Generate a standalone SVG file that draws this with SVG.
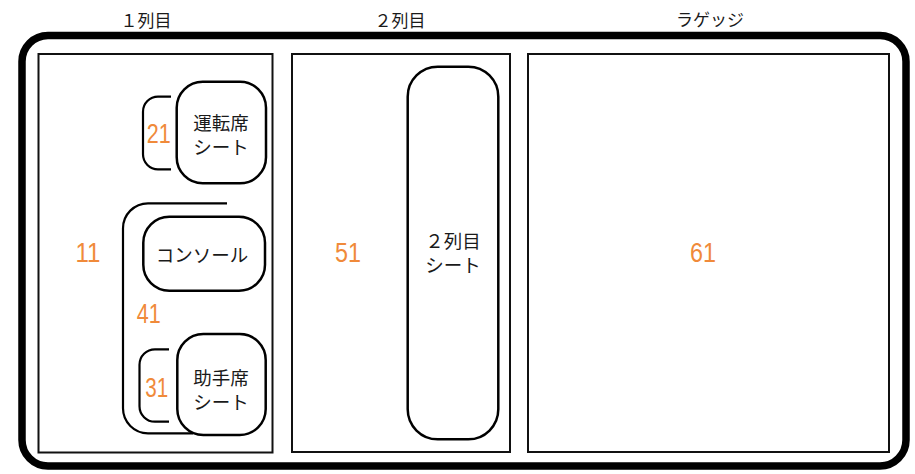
<svg xmlns="http://www.w3.org/2000/svg" width="915" height="474" viewBox="0 0 915 474">
<style>
.jp{font-family:"Noto Sans CJK JP","Noto Sans",sans-serif;font-size:18.5px;fill:#1a1a1a;text-anchor:middle;dominant-baseline:central}
.ttl{font-family:"Noto Sans CJK JP","Noto Sans",sans-serif;font-size:17px;fill:#1a1a1a;text-anchor:middle;dominant-baseline:central}
.num{font-family:"Liberation Sans",Arial,sans-serif;font-size:27px;fill:#F08A3A;text-anchor:middle}
.col{fill:#fff;stroke:#111;stroke-width:2}
.seat{fill:#fff;stroke:#000;stroke-width:2.5}
.br{fill:none;stroke:#000;stroke-width:2.2}
</style>
<rect width="915" height="474" fill="#fff"/>
<g id="frame">
<rect x="22" y="35.5" width="884" height="430.5" rx="26" fill="none" stroke="#000" stroke-width="7.5"/>
</g>
<g id="titles">
<text class="ttl" x="146" y="19">１列目</text>
<text class="ttl" x="400" y="19">２列目</text>
<text class="ttl" x="710" y="18">ラゲッジ</text>
</g>
<g id="col1">
<rect class="col" x="38.5" y="54" width="234" height="398.5"/>
<text class="num" x="88" y="262" textLength="25" lengthAdjust="spacingAndGlyphs">11</text>
</g>
<g id="col2">
<rect class="col" x="292" y="54" width="218" height="398"/>
<text class="num" x="348" y="262" textLength="26" lengthAdjust="spacingAndGlyphs">51</text>
</g>
<g id="col3">
<rect class="col" x="528" y="54" width="361" height="398"/>
<text class="num" x="703" y="262" textLength="26" lengthAdjust="spacingAndGlyphs">61</text>
</g>
<g id="connectors">
<path class="br" d="M171,96.7 H158 A15,15 0 0 0 143,111.7 V154.3 A15,15 0 0 0 158,169.3 H171"/>
<path class="br" d="M227,203.3 H148 A25,25 0 0 0 123,228.3 V408.3 A25,25 0 0 0 148,433.3 H193"/>
<path class="br" d="M169,349.3 H155 A15.5,15.5 0 0 0 139.5,364.8 V406.2 A15.5,15.5 0 0 0 155,421.7 H169"/>
</g>
<g id="n21">
<text class="num" x="158.7" y="143" textLength="24" lengthAdjust="spacingAndGlyphs">21</text>
</g>
<g id="n41">
<text class="num" x="148.8" y="323" textLength="24" lengthAdjust="spacingAndGlyphs">41</text>
</g>
<g id="n31">
<text class="num" x="156.7" y="397" textLength="23" lengthAdjust="spacingAndGlyphs">31</text>
</g>
<g id="driver-seat">
<rect class="seat" x="176.7" y="81.7" width="89.3" height="101.6" rx="26"/>
<text class="jp" x="221" y="122">運転席</text>
<text class="jp" x="221" y="146">シート</text>
</g>
<g id="console">
<rect class="seat" x="143.3" y="216.7" width="121.7" height="74" rx="26"/>
<text class="jp" x="202" y="254">コンソール</text>
</g>
<g id="passenger-seat">
<rect class="seat" x="177.3" y="334" width="88.4" height="101" rx="26"/>
<text class="jp" x="221" y="377">助手席</text>
<text class="jp" x="221" y="401">シート</text>
</g>
<g id="row2-seat">
<rect class="seat" x="407.7" y="66.7" width="90.6" height="372.6" rx="30"/>
<text class="jp" x="453" y="240">２列目</text>
<text class="jp" x="453" y="264">シート</text>
</g>
</svg>
